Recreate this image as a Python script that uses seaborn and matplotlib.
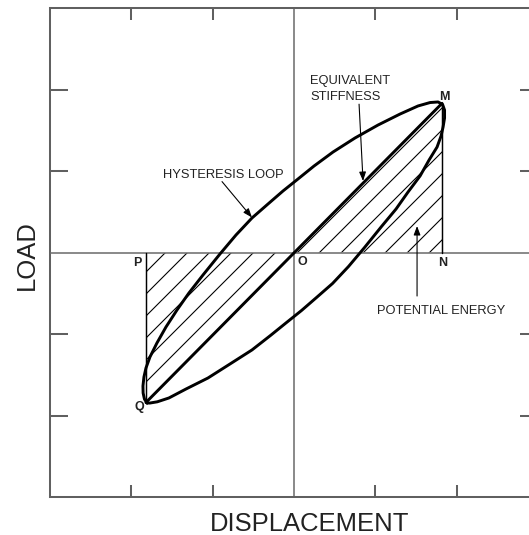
import matplotlib
matplotlib.use("Agg")
import matplotlib.pyplot as plt
import pandas as pd
import seaborn as sns

# ---- data -------------------------------------------------------------
# Hysteresis loop, upper branch: from the Q end, up and over to the M end
upper_disp = [-1.808, -1.839, -1.855, -1.857, -1.845, -1.820, -1.771, -1.685,
              -1.574, -1.439, -1.292, -1.119, -0.910, -0.713, -0.517, -0.320,
              -0.135, 0.049, 0.246, 0.480, 0.750, 1.033, 1.304, 1.525,
              1.673, 1.771, 1.827, 1.851, 1.851, 1.833]
upper_load = [-1.847, -1.798, -1.724, -1.638, -1.528, -1.417, -1.282, -1.110,
              -0.914, -0.706, -0.497, -0.276, -0.018, 0.215, 0.423, 0.595,
              0.755, 0.902, 1.061, 1.233, 1.405, 1.564, 1.699, 1.798,
              1.840, 1.847, 1.816, 1.748, 1.650, 1.540]
# Lower branch: from the M end back down to the Q end
lower_disp = [1.808, 1.759, 1.661, 1.550, 1.402, 1.255, 1.076, 0.867, 0.670,
              0.474, 0.277, 0.092, -0.092, -0.289, -0.517, -0.787, -1.058,
              -1.328, -1.538, -1.681, -1.771, -1.808]
lower_load = [1.429, 1.294, 1.135, 0.939, 0.742, 0.534, 0.319, 0.061, -0.172,
              -0.380, -0.552, -0.712, -0.859, -1.018, -1.196, -1.368, -1.540,
              -1.675, -1.785, -1.832, -1.847, -1.847]

# Named points of the diagram (displacement, load)
point_names = ["M", "N", "O", "P", "Q"]
point_disp = [1.82, 1.82, 0.0, -1.82, -1.82]
point_load = [1.83, 0.0, 0.0, 0.0, -1.84]

tick_values = [-2, -1, 1, 2]
axis_limits = [-3, 3]

pts = dict(zip(point_names, zip(point_disp, point_load)))

loop = pd.DataFrame({
    "displacement": upper_disp + lower_disp,
    "load": upper_load + lower_load,
})
stiffness = pd.DataFrame({
    "displacement": [pts["Q"][0], pts["M"][0]],
    "load": [pts["Q"][1], pts["M"][1]],
})

# ---- style ------------------------------------------------------------
sns.set_style("white")
plt.rcParams["font.family"] = ["Liberation Sans", "DejaVu Sans"]
plt.rcParams["hatch.linewidth"] = 0.6

DPI = 132
TXT = "#222222"
FRAME = "#606060"

fig = plt.figure(figsize=(529 / DPI, 535 / DPI), dpi=DPI)
ax = fig.add_axes([50 / 529, 38 / 535, 488 / 529, 489 / 535])
ax.set_xlim(axis_limits)
ax.set_ylim(axis_limits)

# centre axes through O
ax.axhline(0, color="#6c6c6c", lw=0.85, zorder=3)
ax.axvline(0, color="#6c6c6c", lw=0.85, zorder=1)

# shaded potential-energy triangles OMN and OPQ
for a, b, c in (("O", "M", "N"), ("O", "P", "Q")):
    ax.fill([pts[a][0], pts[b][0], pts[c][0]],
            [pts[a][1], pts[b][1], pts[c][1]],
            facecolor="none", edgecolor="black", hatch="//",
            linewidth=0, zorder=2)
for a, b in (("M", "N"), ("P", "Q")):
    ax.plot([pts[a][0], pts[b][0]], [pts[a][1], pts[b][1]],
            color="black", lw=0.8, zorder=3)

# equivalent stiffness line QM and the hysteresis loop
sns.lineplot(data=stiffness, x="displacement", y="load", sort=False,
             estimator=None, color="black", lw=1.6, ax=ax, zorder=4)
sns.lineplot(data=loop, x="displacement", y="load", sort=False,
             estimator=None, color="black", lw=1.6, ax=ax, zorder=5,
             solid_joinstyle="round", solid_capstyle="round")

# point labels
label_pos = {"M": (1.851, 1.912), "N": (1.833, -0.123), "O": (0.105, -0.117),
             "P": (-1.924, -0.123), "Q": (-1.898, -1.895)}
for name in point_names:
    ax.text(*label_pos[name], name, ha="center", va="center",
            fontsize=6.8, fontweight="bold", color=TXT, zorder=6)

# callouts
arrow = dict(arrowstyle="-|>,head_length=0.45,head_width=0.17",
             mutation_scale=9, color="black", lw=0.6,
             shrinkA=0, shrinkB=0)
ax.text(-0.867, 0.945, "HYSTERESIS LOOP", ha="center", va="center",
        fontsize=7, color=TXT)
ax.annotate("", xy=(-0.517, 0.430), xytext=(-0.885, 0.870),
            arrowprops=arrow, zorder=6)

ax.text(0.197, 2.010, "EQUIVALENT\nSTIFFNESS", ha="left", va="center",
        fontsize=7, color=TXT, linespacing=1.45)
ax.annotate("", xy=(0.849, 0.877), xytext=(0.800, 1.820),
            arrowprops=arrow, zorder=6)

ax.text(1.808, -0.721, "POTENTIAL ENERGY", ha="center", va="center",
        fontsize=7, color=TXT)
ax.annotate("", xy=(1.513, 0.325), xytext=(1.513, -0.534),
            arrowprops=arrow, zorder=6)

# frame and inward ticks
for s in ax.spines.values():
    s.set_visible(True)
    s.set_color(FRAME)
    s.set_linewidth(1.1)
ax.set_xticks(tick_values)
ax.set_yticks(tick_values)
ax.tick_params(axis="both", which="major", direction="in", top=True,
               right=True, bottom=True, left=True, labelbottom=False,
               labelleft=False, color=FRAME, width=1.1)
ax.tick_params(axis="x", length=6.8)
ax.tick_params(axis="y", length=9.8)

ax.set_xlabel("DISPLACEMENT", fontsize=14, color=TXT)
ax.set_ylabel("LOAD", fontsize=14, color=TXT)
ax.xaxis.set_label_coords(0.531, -0.031)
ax.yaxis.set_label_coords(-0.023, 0.495)

fig.savefig("out.png", dpi=DPI)
